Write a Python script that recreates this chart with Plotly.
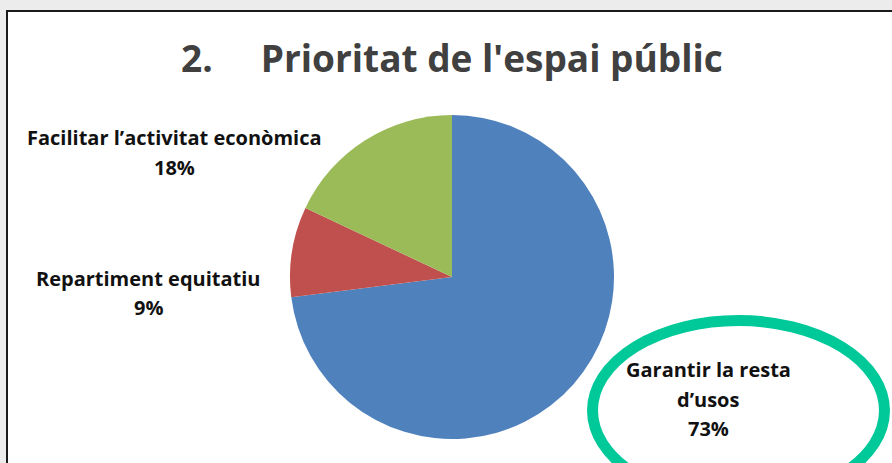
import plotly.graph_objects as go

W, H = 892, 463

categories = ["Garantir la resta d'usos", "Repartiment equitatiu", "Facilitar l’activitat econòmica"]
values = [73, 9, 18]
colors = ["#4F81BD", "#C0504D", "#9BBB59"]

title_text = "2.\u00a0\u00a0\u00a0\u00a0\u00a0Prioritat de l'espai públic"

# label lines (text, pixel x, pixel y)
label_lines = [
    ("Facilitar l’activitat econòmica", 174, 137),
    ("18%", 174, 167),
    ("Repartiment equitatiu", 148, 278),
    ("9%", 148, 307),
    ("Garantir la resta", 708, 369),
    ("d’usos", 708, 399),
    ("73%", 708, 428),
]

def px(x):
    return x / W

def py(y):
    return 1 - y / H

cx, cy, r = 452, 277, 162

fig = go.Figure()
fig.add_trace(go.Pie(
    labels=categories,
    values=values,
    marker=dict(colors=colors, line=dict(width=0)),
    sort=False,
    direction="clockwise",
    rotation=0,
    textinfo="none",
    hoverinfo="label+percent",
    showlegend=False,
    domain=dict(x=[px(cx - r), px(cx + r)], y=[py(cy + r), py(cy - r)]),
))

shapes = [
    dict(type="rect", xref="paper", yref="paper",
         x0=px(7), x1=px(905), y0=py(475), y1=py(11),
         fillcolor="white", line=dict(color="#1a1a1a", width=2), layer="below"),
    dict(type="circle", xref="paper", yref="paper",
         x0=px(592.5), x1=px(884.5), y0=py(500.5), y1=py(320.5),
         line=dict(color="#00C999", width=11), fillcolor="rgba(0,0,0,0)"),
]

annotations = [
    dict(text="<b>" + title_text + "</b>", x=px(452), y=py(58), xref="paper", yref="paper",
         xanchor="center", yanchor="middle", showarrow=False,
         font=dict(family="Open Sans", size=37, color="#404040")),
]
for t, x, y in label_lines:
    annotations.append(dict(text="<b>" + t + "</b>", x=px(x), y=py(y), xref="paper", yref="paper",
                            xanchor="center", yanchor="middle", showarrow=False,
                            font=dict(family="Open Sans", size=20, color="#111111")))

fig.update_layout(
    width=W, height=H,
    margin=dict(l=0, r=0, t=0, b=0),
    paper_bgcolor="#ececec",
    plot_bgcolor="white",
    shapes=shapes,
    annotations=annotations,
)

fig.write_html("out.html", config={"displayModeBar": False},
               post_script="document.body.style.margin='0';document.body.style.padding='0';")
